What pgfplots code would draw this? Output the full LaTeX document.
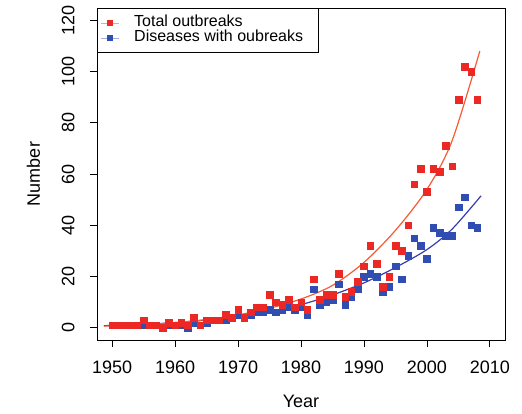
\documentclass[border=0pt]{standalone}
\usepackage{pgfplots}
\pgfplotsset{compat=1.18}
\usepackage{fontspec}
\setmainfont{Liberation Sans}
\definecolor{ptred}{RGB}{236,40,36}
\definecolor{lnred}{RGB}{245,90,55}
\definecolor{ptblue}{RGB}{48,78,178}
\definecolor{lnblue}{RGB}{55,60,175}
\begin{document}
\begin{tikzpicture}
\begin{axis}[
  scale only axis, width=408bp, height=332bp,
  xmin=1947.6, xmax=2012.4, ymin=-4.8, ymax=124.8,
  xtick={1950,1960,...,2010}, ytick={0,20,...,120},
  tick align=outside, major tick length=7bp,
  xtick pos=bottom, ytick pos=left,
  axis line style={line width=0.8bp, black},
  every tick/.style={line width=0.8bp, black},
  /pgf/number format/assume math mode=true,
  /pgf/number format/1000 sep={},
  tick label style={font=\fontsize{18bp}{21bp}\selectfont},
  xticklabel style={anchor=base, yshift=-26bp},
  yticklabel style={rotate=90, anchor=base, yshift=15.5bp},
  xlabel={Year}, ylabel={Number},
  label style={font=\fontsize{18bp}{21bp}\selectfont},
  xlabel style={at={(axis description cs:0.5,0)}, anchor=base, yshift=-67bp},
  ylabel style={at={(axis description cs:0,0.5)}, anchor=base, yshift=57bp},
  legend cell align=left,
  reverse legend,
  legend style={at={(0,1)}, anchor=north west, draw=black, line width=0.8bp,
    inner xsep=15bp, inner ysep=7bp, row sep=0pt, column sep=0pt,
    font=\fontsize{16bp}{15bp}\selectfont,
    nodes={inner sep=0pt, text height=11.5bp, text depth=3.5bp}},
]
% fitted curves
\addplot[lnblue, line width=1.2bp, smooth, forget plot] coordinates {
 (1948.7,0.8) (1955,1.3) (1960,2.0) (1965,3.0) (1970,4.3) (1975,6.3) (1980,9.0)
 (1985,12.8) (1990,17.5) (1995,23.5) (2000,30.5) (2004,38.5) (2008.6,51.5)};
\addplot[lnred, line width=1.2bp, smooth, forget plot] coordinates {
 (1948.7,0.6) (1955,1.2) (1960,2.0) (1965,3.2) (1970,5.0) (1975,7.6) (1980,11.2)
 (1985,16.5) (1990,25.5) (1995,38) (2000,54) (2004,73) (2008.4,108)};
% diseases with outbreaks
\addplot[only marks, mark=square*, mark size=3.3bp, ptblue, mark options={draw=none, fill=ptblue},
  legend image code/.code={\path (0bp,0bp) (21bp,0bp);
    \draw[overlay, ptblue!45, line width=0.6bp] (-12bp,0bp) -- (6bp,0bp);
    \fill[overlay, ptblue] (-5.5bp,-2.5bp) rectangle (-0.5bp,2.5bp);}]
 coordinates {
 (1950,1) (1951,1) (1952,1) (1953,1) (1954,1) (1955,1) (1956,1) (1957,1) (1958,0) (1959,1)
 (1960,1) (1961,1) (1962,0) (1963,2) (1964,1) (1965,2) (1966,3) (1967,3) (1968,3) (1969,4)
 (1970,5) (1971,4) (1972,5) (1973,6) (1974,6) (1975,7) (1976,6) (1977,7) (1978,8) (1979,7)
 (1980,8) (1981,5) (1982,15) (1983,9) (1984,10) (1985,11) (1986,17) (1987,9) (1988,12) (1989,15)
 (1990,20) (1991,21) (1992,20) (1993,14) (1994,16) (1995,24) (1996,19) (1997,28) (1998,35) (1999,32)
 (2000,27) (2001,39) (2002,37) (2003,36) (2004,36) (2005,47) (2006,51) (2007,40) (2008,39)};
\addlegendentry{Diseases with oubreaks}
% total outbreaks
\addplot[only marks, mark=square*, mark size=3.3bp, ptred, mark options={draw=none, fill=ptred},
  legend image code/.code={\path (0bp,0bp) (21bp,0bp);
    \draw[overlay, ptred!45, line width=0.6bp] (-12bp,0bp) -- (6bp,0bp);
    \fill[overlay, ptred] (-5.5bp,-2.5bp) rectangle (-0.5bp,2.5bp);}]
 coordinates {
 (1950,1) (1951,1) (1952,1) (1953,1) (1954,1) (1955,3) (1956,1) (1957,1) (1958,0) (1959,2)
 (1960,1) (1961,2) (1962,1) (1963,4) (1964,1) (1965,3) (1966,3) (1967,3) (1968,5) (1969,4)
 (1970,7) (1971,4) (1972,6) (1973,8) (1974,8) (1975,13) (1976,10) (1977,9) (1978,11) (1979,8)
 (1980,10) (1981,7) (1982,19) (1983,11) (1984,13) (1985,13) (1986,21) (1987,12) (1988,14) (1989,18)
 (1990,24) (1991,32) (1992,25) (1993,16) (1994,20) (1995,32) (1996,30) (1997,40) (1998,56) (1999,62)
 (2000,53) (2001,62) (2002,61) (2003,71) (2004,63) (2005,89) (2006,102) (2007,100) (2008,89)};
\addlegendentry{Total outbreaks}
\end{axis}
\pgfresetboundingbox
\path[use as bounding box] ([shift={(-97bp,-74bp)}]current axis.south west) rectangle ([shift={(17bp,8bp)}]current axis.north east);
\end{tikzpicture}
\end{document}
